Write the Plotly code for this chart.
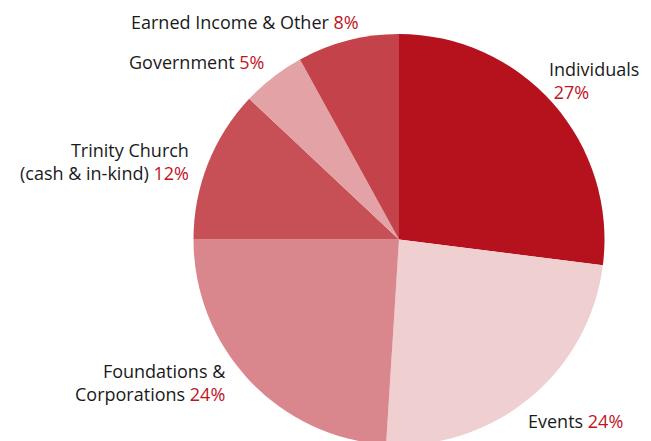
import plotly.graph_objects as go

categories = ["Individuals", "Events", "Foundations & Corporations",
              "Trinity Church (cash & in-kind)", "Government", "Earned Income & Other"]
label_lines = [["Individuals"], ["Events"], ["Foundations &", "Corporations"],
               ["Trinity Church", "(cash & in-kind)"], ["Government"], ["Earned Income & Other"]]
values = [27, 24, 24, 12, 5, 8]
colors = ["#B5121E", "#F0CFD1", "#D9878C", "#C75057", "#E3A2A6", "#C4434A"]

RED = "#C0141F"
FONT = "Open Sans, Noto Sans, sans-serif"

fig = go.Figure(go.Pie(
    labels=categories, values=values, sort=False, direction="clockwise", rotation=0,
    marker=dict(colors=colors, line=dict(width=0)), textinfo="none", hoverinfo="label+percent",
    showlegend=False, domain=dict(x=[0.2806, 0.9206], y=[0, 1]),
))

# label placements (paper coords): x, y, xanchor, separate line for pct
placements = [
    (0.828, 0.887, "left", True),
    (0.7957, 0.058, "left", False),
    (0.3379, 0.153, "right", False),
    (0.281, 0.69, "right", False),
    (0.3963, 0.932, "right", False),
    (0.5422, 1.029, "right", False),
]

annotations = []
for lines, v, (x, y, xa, pct_newline) in zip(label_lines, values, placements):
    pct = f"<span style='color:{RED}'>{v}%</span>"
    if pct_newline:
        text = "<br>".join(lines) + "<br> " + pct
    else:
        text = "<br>".join(lines[:-1] + [lines[-1] + " " + pct])
    annotations.append(dict(x=x, y=y, xref="paper", yref="paper", text=text, showarrow=False,
                            xanchor=xa, yanchor="middle", align=xa,
                            font=dict(family=FONT, size=18, color="#1a1a1a")))

fig.update_layout(width=651, height=441, margin=dict(l=0, r=0, t=26, b=4),
                  paper_bgcolor="white", plot_bgcolor="white", annotations=annotations,
                  font=dict(family=FONT))

fig.write_html("out.html")
